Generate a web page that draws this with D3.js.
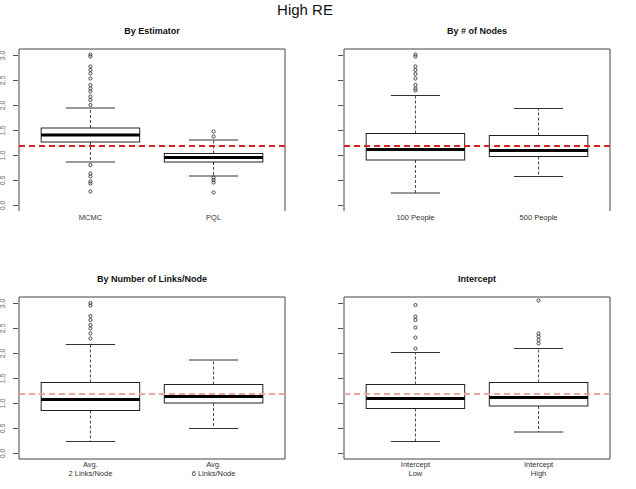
<!DOCTYPE html>
<html>
<head>
<meta charset="utf-8">
<script src="https://cdn.jsdelivr.net/npm/d3@7"></script>
<style>
    body { margin: 0; background: #fff; }
    svg { display: block; font-family: "Liberation Sans", Arial, sans-serif; }
</style>
</head>
<body>
<div id="chart"></div>
<script>
// 数据：每个面板的标题、类别、箱线统计量 [下须, Q1, 中位数, Q3, 上须] 和离群点
const mainTitle = "High RE";
const panelTitles = ["By Estimator", "By # of Nodes", "By Number of Links/Node", "Intercept"];
const categories = [
    [["MCMC"], ["PQL"]],
    [["100 People"], ["500 People"]],
    [["Avg.", "2 Links/Node"], ["Avg.", "6 Links/Node"]],
    [["Intercept", "Low"], ["Intercept", "High"]]
];
const boxStats = [
    [[0.86, 1.26, 1.40, 1.54, 1.94], [0.58, 0.86, 0.95, 1.03, 1.30]],
    [[0.24, 0.90, 1.11, 1.43, 2.19], [0.57, 0.97, 1.09, 1.39, 1.93]],
    [[0.23, 0.85, 1.07, 1.41, 2.17], [0.49, 1.00, 1.13, 1.37, 1.86]],
    [[0.23, 0.89, 1.09, 1.37, 2.01], [0.42, 0.94, 1.11, 1.41, 2.09]]
];
const outliers = [
    [[3.01, 2.97, 2.77, 2.70, 2.63, 2.53, 2.40, 2.33, 2.27, 2.17, 2.10, 2.00, 0.80, 0.63, 0.57, 0.47, 0.43, 0.27],
     [1.47, 1.37, 0.55, 0.50, 0.45, 0.25]],
    [[3.01, 2.97, 2.77, 2.70, 2.62, 2.53, 2.40, 2.33, 2.29], []],
    [[3.00, 2.95, 2.74, 2.66, 2.56, 2.49, 2.39, 2.29], []],
    [[2.96, 2.73, 2.66, 2.51, 2.31, 2.09], [3.05, 2.39, 2.33, 2.26, 2.19]]
];
const refValue = 1.18;
const yTicks = [0, 0.5, 1, 1.5, 2, 2.5, 3];

const width = 636;
const height = 489;

// 面板位置
const layout = [
    { left: 19, right: 285, top: 49, bottom: 211, bottomLine: false, refColor: "#d42424" },
    { left: 344, right: 610, top: 49, bottom: 211, bottomLine: false, refColor: "#d42424" },
    { left: 19, right: 285, top: 297, bottom: 459, bottomLine: true, refColor: "#eaa4a4" },
    { left: 344, right: 610, top: 297, bottom: 459, bottomLine: true, refColor: "#eaa4a4" }
];

const svg = d3.select("#chart")
    .append("svg")
    .attr("width", width)
    .attr("height", height);

// 总标题
svg.append("text")
    .attr("x", 305)
    .attr("y", 15)
    .attr("text-anchor", "middle")
    .attr("font-size", 15)
    .attr("fill", "#111")
    .text(mainTitle);

function drawPanel(i) {
    const p = layout[i];
    const g = svg.append("g");
    const names = categories[i].map(d => d.join(" "));

    const x = d3.scalePoint()
        .domain(names)
        .range([p.left, p.right])
        .padding(0.58);
    const boxW = x.step() * 0.8;

    const y = d3.scaleLinear()
        .domain([-0.12, 3.12])
        .range([p.bottom, p.top]);

    // 面板标题
    g.append("text")
        .attr("x", (p.left + p.right) / 2)
        .attr("y", p.top - 15)
        .attr("text-anchor", "middle")
        .attr("font-size", 9)
        .attr("font-weight", "bold")
        .attr("fill", "#111")
        .text(panelTitles[i]);

    // 边框
    const frame = p.bottomLine
        ? `M${p.left},${p.top}H${p.right}V${p.bottom}H${p.left}Z`
        : `M${p.left},${p.bottom}V${p.top}H${p.right}V${p.bottom}`;
    g.append("path")
        .attr("d", frame)
        .attr("fill", "none")
        .attr("stroke", "#444")
        .attr("stroke-width", 1);

    // y 轴
    const yAxis = g.append("g")
        .attr("transform", `translate(${p.left - 1},0)`)
        .call(d3.axisLeft(y).tickValues(yTicks).tickSize(5).tickFormat(d3.format(".1f")));
    yAxis.select(".domain").remove();
    yAxis.selectAll(".tick line").attr("stroke", "#555");
    yAxis.selectAll(".tick text")
        .attr("font-size", 7)
        .attr("fill", "#999")
        .attr("x", 0)
        .attr("dy", 0)
        .attr("text-anchor", "middle")
        .attr("transform", `translate(${-(p.left - 6)},0) rotate(-90)`);

    // x 轴标签
    categories[i].forEach((lines, k) => {
        const t = g.append("text")
            .attr("text-anchor", "middle")
            .attr("font-size", 7.5)
            .attr("fill", "#333");
        lines.forEach((line, j) => {
            t.append("tspan")
                .attr("x", x(names[k]))
                .attr("y", lines.length > 1 ? p.bottom + 8 + j * 9 : p.bottom + 9)
                .text(line);
        });
    });

    // 箱线图
    boxStats[i].forEach((s, k) => {
        const cx = x(names[k]);
        const [lo, q1, med, q3, hi] = s;
        const bg = g.append("g");

        // 须线（虚线）
        bg.append("line")
            .attr("x1", cx).attr("x2", cx)
            .attr("y1", y(q3)).attr("y2", y(hi))
            .attr("stroke", "#444").attr("stroke-dasharray", "3,2");
        bg.append("line")
            .attr("x1", cx).attr("x2", cx)
            .attr("y1", y(q1)).attr("y2", y(lo))
            .attr("stroke", "#444").attr("stroke-dasharray", "3,2");

        // 须端
        [lo, hi].forEach(v => {
            bg.append("line")
                .attr("x1", cx - boxW / 4).attr("x2", cx + boxW / 4)
                .attr("y1", y(v)).attr("y2", y(v))
                .attr("stroke", "#333");
        });

        // 箱体
        bg.append("rect")
            .attr("x", cx - boxW / 2)
            .attr("y", y(q3))
            .attr("width", boxW)
            .attr("height", y(q1) - y(q3))
            .attr("fill", "#fff")
            .attr("stroke", "#222");

        // 中位数
        bg.append("line")
            .attr("x1", cx - boxW / 2).attr("x2", cx + boxW / 2)
            .attr("y1", y(med)).attr("y2", y(med))
            .attr("stroke", "#000").attr("stroke-width", 3);

        // 离群点
        bg.selectAll("circle")
            .data(outliers[i][k])
            .enter()
            .append("circle")
            .attr("cx", cx)
            .attr("cy", d => y(d))
            .attr("r", 1.6)
            .attr("fill", "none")
            .attr("stroke", "#222")
            .attr("stroke-width", 0.8);
    });

    // 参考线
    g.append("line")
        .attr("x1", p.left).attr("x2", p.right)
        .attr("y1", y(refValue)).attr("y2", y(refValue))
        .attr("stroke", p.refColor)
        .attr("stroke-width", 2)
        .attr("stroke-dasharray", "6,4");
}

d3.range(4).forEach(drawPanel);
</script>
</body>
</html>
